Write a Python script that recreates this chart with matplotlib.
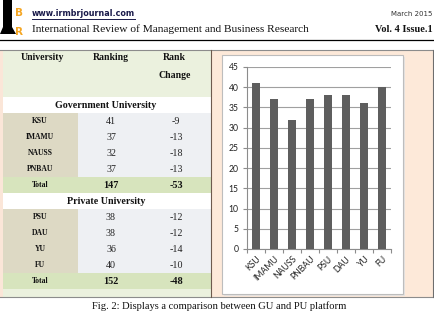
import matplotlib
matplotlib.use("Agg")
import matplotlib.pyplot as plt
from matplotlib.patches import Rectangle, Polygon

# ---------------- data ----------------
gov_names = ["KSU", "IMAMU", "NAUSS", "PNBAU"]
gov_rank = [41, 37, 32, 37]
gov_change = [-9, -13, -18, -13]
pri_names = ["PSU", "DAU", "YU", "FU"]
pri_rank = [38, 38, 36, 40]
pri_change = [-12, -12, -14, -10]
chart_labels = gov_names + pri_names
chart_values = gov_rank + pri_rank
y_ticks = [0, 5, 10, 15, 20, 25, 30, 35, 40, 45]

W, H = 434, 318
fig = plt.figure(figsize=(W / 100, H / 100), dpi=100)
fig.patch.set_facecolor("white")

# full-figure pixel axes for page elements
bg = fig.add_axes([0, 0, 1, 1])
bg.set_xlim(0, W)
bg.set_ylim(H, 0)
bg.axis("off")

serif = "Liberation Serif"

# ---- header ----
bg.add_patch(Polygon([(3, 0), (12, 0), (12, 27), (16, 34), (0, 34), (3, 27)],
                     closed=True, color="black", lw=0))
bg.text(19, 13, "B", color="#f5a623", fontsize=7.5, fontweight="bold",
        ha="center", va="center", family="DejaVu Sans")
bg.text(19, 32, "R", color="#f5a623", fontsize=7.5, fontweight="bold",
        ha="center", va="center", family="DejaVu Sans")
bg.text(32, 14, "www.irmbrjournal.com", color="#1a1a4a", fontsize=5.8,
        fontweight="bold", ha="left", va="center", family="DejaVu Sans")
bg.plot([32, 135], [18.5, 18.5], color="#1a1a4a", lw=0.7)
bg.text(432, 14, "March 2015", color="#333333", fontsize=5.0,
        ha="right", va="center", family="DejaVu Sans")
bg.text(32, 29, "International Review of Management and Business Research",
        color="#111111", fontsize=8.2, ha="left", va="center", family=serif)
bg.text(433, 29, "Vol. 4 Issue.1", color="#111111", fontsize=7.4,
        fontweight="bold", ha="right", va="center", family=serif)
bg.plot([0, W], [39.5, 39.5], color="black", lw=0.9)

# ---- table area ----
tx0, tx1 = 0, 211
bg.add_patch(Rectangle((tx0, 50), tx1 - tx0, 247, color="#ebf1de", lw=0))
bg.add_patch(Rectangle((0, 50), 3, 247, color="#fbe6d8", lw=0))
# chart area background
bg.add_patch(Rectangle((211, 50), 222, 247, color="#fde9d9", lw=0))

col_name = (3, 78)
col_vals = (78, 211)
row_h = 16
x_name, x_rank, x_chg = 40, 111, 176

def section(title, y_top, names, ranks, changes):
    # white title band
    bg.add_patch(Rectangle((3, y_top), 208, row_h, color="white", lw=0))
    bg.text(106, y_top + row_h / 2, title, fontsize=7.2, fontweight="bold",
            ha="center", va="center", family=serif, color="#111111")
    y = y_top + row_h
    for n, r, c in zip(names, ranks, changes):
        bg.add_patch(Rectangle((col_name[0], y), col_name[1] - col_name[0], row_h,
                               color="#ddd9c4", lw=0))
        bg.add_patch(Rectangle((col_vals[0], y), col_vals[1] - col_vals[0], row_h,
                               color="#eef0f3", lw=0))
        bg.text(x_name, y + row_h / 2, n, fontsize=5.5, fontweight="bold",
                ha="center", va="center", family=serif, color="#111111")
        bg.text(x_rank, y + row_h / 2, str(r), fontsize=7.2,
                ha="center", va="center", family=serif, color="#222222")
        bg.text(x_chg, y + row_h / 2, str(c), fontsize=7.2,
                ha="center", va="center", family=serif, color="#222222")
        y += row_h
    bg.add_patch(Rectangle((3, y), 208, row_h, color="#d7e4bd", lw=0))
    bg.text(x_name, y + row_h / 2, "Total", fontsize=5.5, fontweight="bold",
            ha="center", va="center", family=serif, color="#111111")
    bg.text(x_rank, y + row_h / 2, str(sum(ranks)), fontsize=7.4, fontweight="bold",
            ha="center", va="center", family=serif, color="#111111")
    bg.text(x_chg, y + row_h / 2, str(sum(changes)), fontsize=7.4, fontweight="bold",
            ha="center", va="center", family=serif, color="#111111")
    return y + row_h

# header texts
bg.text(42, 57, "University", fontsize=7.0, fontweight="bold", ha="center",
        va="center", family=serif, color="#111111")
bg.text(111, 57, "Ranking", fontsize=7.0, fontweight="bold", ha="center",
        va="center", family=serif, color="#111111")
bg.text(174, 57, "Rank", fontsize=7.0, fontweight="bold", ha="center",
        va="center", family=serif, color="#111111")
bg.text(175, 75, "Change", fontsize=7.0, fontweight="bold", ha="center",
        va="center", family=serif, color="#111111")

y_next = section("Government University", 97, gov_names, gov_rank, gov_change)
section("Private University", y_next, pri_names, pri_rank, pri_change)

# borders
bg.plot([0, 433], [50, 50], color="#8c8c8c", lw=0.8)
bg.plot([0, 433], [297, 297], color="#8c8c8c", lw=0.8)
bg.plot([211, 211], [50, 297], color="#6e5a4e", lw=0.8)
bg.plot([433, 433], [50, 297], color="#6e6e6e", lw=0.8)

# chart white box with shadow
bg.add_patch(Rectangle((224, 57), 181, 239, color="#e6e3e0", lw=0))
bg.add_patch(Rectangle((222, 55), 181, 239, facecolor="white",
                       edgecolor="#bdbdbd", lw=0.8))

# caption
bg.text(219, 306, "Fig. 2: Displays a comparison between GU and PU platform",
        fontsize=7.6, ha="center", va="center", family=serif, color="#111111")

# ---- bar chart ----
ax = fig.add_axes([247 / W, 1 - 249 / H, 144 / W, 182 / H])
x = list(range(len(chart_labels)))
ax.bar(x, chart_values, width=0.4, color="#5e5e5e", zorder=3)
ax.set_xlim(-0.5, len(chart_labels) - 0.5)
ax.set_ylim(0, 45)
ax.set_yticks(y_ticks)
ax.set_yticklabels([str(v) for v in y_ticks], fontsize=6.2, family="Lato",
                   color="#222222")
ax.yaxis.grid(True, color="#a0a0a0", lw=0.8, zorder=0)
ax.set_axisbelow(True)
ax.set_facecolor("white")
for s in ["top", "right"]:
    ax.spines[s].set_visible(False)
ax.spines["left"].set_color("#8c8c8c")
ax.spines["bottom"].set_color("#8c8c8c")
ax.spines["left"].set_linewidth(0.8)
ax.spines["bottom"].set_linewidth(0.8)
ax.tick_params(axis="y", length=3, width=0.8, color="#8c8c8c", pad=3)
ax.set_xticks(x)
ax.set_xticklabels(chart_labels, rotation=45, ha="right", va="top",
                   rotation_mode="anchor", fontsize=6.2, family="Lato",
                   color="#222222")
ax.tick_params(axis="x", length=0, pad=4)
ax.set_xticks([i - 0.5 for i in range(len(chart_labels) + 1)], minor=True)
ax.tick_params(axis="x", which="minor", length=3, width=0.8, color="#8c8c8c")

fig.savefig("out.png", dpi=100, facecolor="white")
